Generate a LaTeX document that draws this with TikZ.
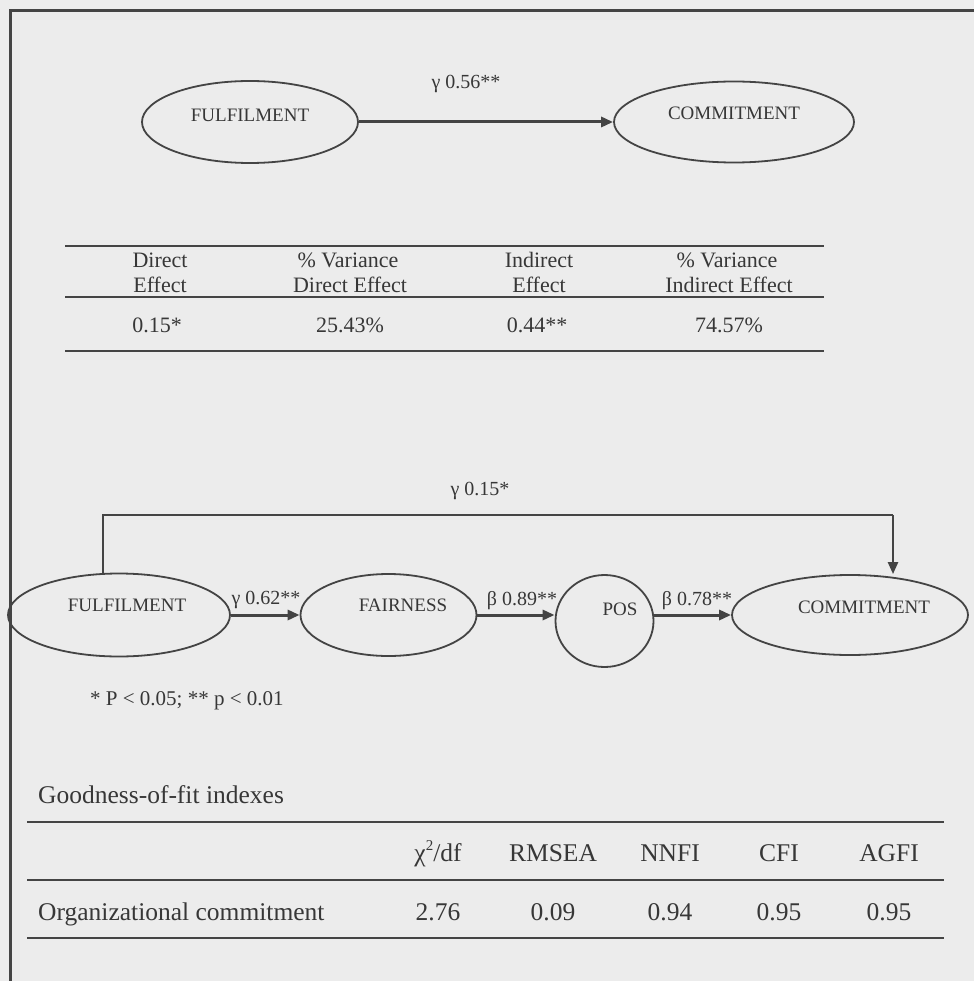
\documentclass[tikz,border=0pt]{standalone}
\usepackage{fontspec}
\setmainfont{Liberation Serif}
\usetikzlibrary{shapes.geometric,arrows.meta}
\definecolor{bgc}{RGB}{236,236,236}
\definecolor{ink}{RGB}{55,55,55}
\definecolor{ln}{RGB}{68,68,68}
\begin{document}
\begin{tikzpicture}[x=1pt,y=-1pt,
  lv/.style={draw=ln, line width=1.8pt, ellipse, inner sep=0pt},
  lbl/.style={text=ink, font=\fontsize{19}{22}\selectfont, inner sep=0pt},
  coef/.style={text=ink, font=\fontsize{20}{24}\selectfont, inner sep=0pt, anchor=base},
  tab/.style={text=ink, font=\fontsize{22}{25}\selectfont, inner sep=0pt, anchor=base},
  gtab/.style={text=ink, font=\fontsize{25.5}{28}\selectfont, inner sep=0pt, anchor=base},
  rule/.style={draw=ln, line width=1.6pt},
  arr/.style={draw=ln, line width=3pt, -{Triangle[length=12pt,width=10pt]}},
  con/.style={draw=ln, line width=2pt},
]
\useasboundingbox (0,0) rectangle (974,981);
\fill[bgc] (0,0) rectangle (974,981);
% frame
\coordinate (fa) at (974,11);
\coordinate (fb) at (10,11);
\coordinate (fc) at (10,981);
\draw[draw=ln, line width=3pt] (fa) -- (fb) -- (fc);

% ---------- top model ----------
\node[lv, minimum width=216pt, minimum height=82pt] (F1) at (250,122) {};
\node[lbl] (tF1) at (250,115) {FULFILMENT};
\node[lv, minimum width=240pt, minimum height=81pt] (C1) at (734,122) {};
\node[lbl] (tC1) at (734,113) {COMMITMENT};
\draw[arr] (F1.east) -- (C1.west);
\node[coef] (g56) at (466,89) {γ 0.56**};

% ---------- effects table ----------
\coordinate (t1a) at (65,246);  \coordinate (t1b) at (824,246);
\coordinate (t1c) at (65,297);  \coordinate (t1d) at (824,297);
\coordinate (t1e) at (65,351);  \coordinate (t1f) at (824,351);
\draw[rule] (t1a) -- (t1b);
\draw[rule] (t1c) -- (t1d);
\draw[rule] (t1e) -- (t1f);
\node[tab] (h1a) at (160,267.5) {Direct};
\node[tab] (h1b) at (160,292.5) {Effect};
\node[tab] (h2a) at (348,267.5) {\% Variance};
\node[tab] (h2b) at (350,292.5) {Direct Effect};
\node[tab] (h3a) at (539,267.5) {Indirect};
\node[tab] (h3b) at (539,292.5) {Effect};
\node[tab] (h4a) at (727,267.5) {\% Variance};
\node[tab] (h4b) at (729,292.5) {Indirect Effect};
\node[tab] (v1) at (157,332.5) {0.15*};
\node[tab] (v2) at (350,332.5) {25.43\%};
\node[tab] (v3) at (537,332.5) {0.44**};
\node[tab] (v4) at (729,332.5) {74.57\%};

% ---------- mediated model ----------
\node[lv, minimum width=222pt, minimum height=83pt] (F2) at (119,615) {};
\node[lbl] (tF2) at (127,605) {FULFILMENT};
\node[lv, minimum width=176pt, minimum height=82pt] (Fa) at (388.5,615) {};
\node[lbl] (tFa) at (403,605) {FAIRNESS};
\node[lv, minimum width=98pt, minimum height=92pt] (P) at (604.5,621) {};
\node[lbl] (tP) at (620,609) {POS};
\node[lv, minimum width=236pt, minimum height=80pt] (C2) at (850,615) {};
\node[lbl] (tC2) at (864,607) {COMMITMENT};

\draw[arr] (F2.east) -- (Fa.west);
\draw[arr] (Fa.east) -- (Fa.east -| P.west);
\draw[arr] (C2.west -| P.east) -- (C2.west);

\node[coef] (g62) at (266,604) {γ 0.62**};
\node[coef] (b89) at (522,605) {β 0.89**};
\node[coef] (b78) at (697,605) {β 0.78**};

\coordinate (bl) at (103,515);
\coordinate (br) at (893,515);
\draw[con] (bl |- F2.north) -- (bl) -- (br);
\draw[arr, line width=2.4pt] (br) -- (br |- C2.north);
\node[coef] (g15) at (480,495) {γ 0.15*};

\node[text=ink, font=\fontsize{21}{24}\selectfont, inner sep=0pt, anchor=base west] (fn) at (90,705) {* P < 0.05; ** p < 0.01};

% ---------- goodness-of-fit table ----------
\node[gtab, anchor=base west] (gt) at (38,803.5) {Goodness-of-fit indexes};
\coordinate (t2a) at (27,822);  \coordinate (t2b) at (944,822);
\coordinate (t2c) at (27,880);  \coordinate (t2d) at (944,880);
\coordinate (t2e) at (27,938);  \coordinate (t2f) at (944,938);
\draw[rule] (t2a) -- (t2b);
\draw[rule] (t2c) -- (t2d);
\draw[rule] (t2e) -- (t2f);
\node[gtab] (k1) at (438,861.5) {χ\raisebox{0.42em}{\fontsize{15}{15}\selectfont 2}/df};
\node[gtab] (k2) at (553,861.5) {RMSEA};
\node[gtab] (k3) at (670,861.5) {NNFI};
\node[gtab] (k4) at (779,861.5) {CFI};
\node[gtab] (k5) at (889,861.5) {AGFI};
\node[gtab, anchor=base west] (r0) at (38,920) {Organizational commitment};
\node[gtab] (r1) at (438,920) {2.76};
\node[gtab] (r2) at (553,920) {0.09};
\node[gtab] (r3) at (670,920) {0.94};
\node[gtab] (r4) at (779,920) {0.95};
\node[gtab] (r5) at (889,920) {0.95};
\end{tikzpicture}
\end{document}
